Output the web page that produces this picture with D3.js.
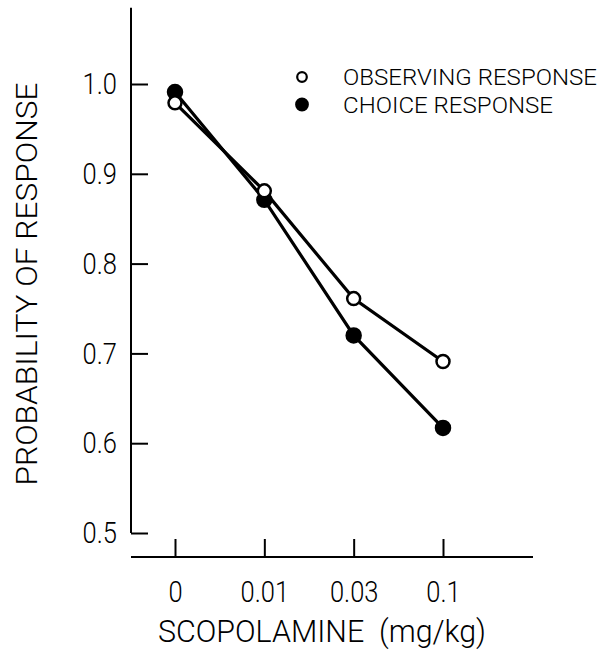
<!DOCTYPE html>
<html>
<head>
<meta charset="utf-8">
<script src="https://cdn.jsdelivr.net/npm/d3@7"></script>
<style>
  body { margin: 0; background: #fff; }
  text { font-family: Roboto, "Liberation Sans", sans-serif; font-weight: 300; fill: #000; }
</style>
</head>
<body>
<svg id="chart" width="605" height="653"></svg>
<script>
const doses = ["0", "0.01", "0.03", "0.1"];
const observing = [0.979, 0.881, 0.761, 0.691];
const choice = [0.991, 0.871, 0.720, 0.617];
const yTicks = [0.5, 0.6, 0.7, 0.8, 0.9, 1.0];
const legendNames = ["OBSERVING RESPONSE", "CHOICE RESPONSE"];

const svg = d3.select("svg#chart");

const x = d3.scalePoint().domain(doses).range([175, 443]);
const y = d3.scaleLinear().domain([0.5, 1.0]).range([533, 84]);

const axisX0 = 131, axisX1 = 533, axisY = 557;

// squeeze text horizontally, the original lettering is narrow
function squeeze(sel, f) {
    sel.each(function() {
        const w = this.getComputedTextLength();
        d3.select(this).attr("textLength", w * f).attr("lengthAdjust", "spacingAndGlyphs");
    });
}

// y axis
const yAxis = d3.axisLeft(y)
    .tickValues(yTicks)
    .tickFormat(d3.format(".1f"))
    .tickSizeInner(-17)
    .tickSizeOuter(0)
    .tickPadding(14);

const gy = svg.append("g")
    .attr("transform", `translate(${axisX0},0)`)
    .call(yAxis);
gy.select(".domain").remove();
gy.selectAll(".tick line").attr("stroke", "#000").attr("stroke-width", 2);
gy.selectAll(".tick text").attr("font-size", 30).attr("fill", "#000")
    .style("font-family", "Roboto, sans-serif").style("font-weight", 300);
squeeze(gy.selectAll(".tick text"), 0.85);

svg.append("line")
    .attr("x1", axisX0).attr("x2", axisX0)
    .attr("y1", y(1.085)).attr("y2", y(0.5))
    .attr("stroke", "#000").attr("stroke-width", 2);

// x axis
const xAxis = d3.axisBottom(x)
    .tickSizeInner(-18)
    .tickSizeOuter(0)
    .tickPadding(24);

const gx = svg.append("g")
    .attr("transform", `translate(0,${axisY})`)
    .call(xAxis);
gx.select(".domain").remove();
gx.selectAll(".tick line").attr("stroke", "#000").attr("stroke-width", 2);
gx.selectAll(".tick text").attr("font-size", 30).attr("fill", "#000")
    .style("font-family", "Roboto, sans-serif").style("font-weight", 300);
squeeze(gx.selectAll(".tick text"), 0.85);

svg.append("line")
    .attr("x1", axisX0).attr("x2", axisX1)
    .attr("y1", axisY).attr("y2", axisY)
    .attr("stroke", "#000").attr("stroke-width", 2);

// axis titles
const xTitle = svg.append("text")
    .attr("x", 322).attr("y", 642)
    .attr("text-anchor", "middle")
    .attr("font-size", 31)
    .attr("xml:space", "preserve")
    .text("SCOPOLAMINE  (mg/kg)");
xTitle.attr("textLength", 328).attr("lengthAdjust", "spacingAndGlyphs");

svg.append("text")
    .attr("transform", "translate(37,284) rotate(-90)")
    .attr("text-anchor", "middle")
    .attr("font-size", 30)
    .attr("textLength", 403)
    .attr("lengthAdjust", "spacingAndGlyphs")
    .text("PROBABILITY OF RESPONSE");

// series
const line = d3.line().x((d, i) => x(doses[i])).y(d => y(d));
const series = [
    { values: choice, fill: "#000", r: 7 },
    { values: observing, fill: "#fff", r: 6.5 }
];

series.forEach(s => {
    svg.append("path")
        .datum(s.values)
        .attr("d", line)
        .attr("fill", "none")
        .attr("stroke", "#000")
        .attr("stroke-width", 3.2);
});

series.forEach(s => {
    svg.append("g")
        .selectAll("circle")
        .data(s.values)
        .join("circle")
        .attr("cx", (d, i) => x(doses[i]))
        .attr("cy", d => y(d))
        .attr("r", s.r)
        .attr("fill", s.fill)
        .attr("stroke", "#000")
        .attr("stroke-width", 2.5);
});

// legend
const legend = svg.append("g");
const legendFill = ["#fff", "#000"];
const legendWidth = [254, 210];
legendNames.forEach((name, i) => {
    const ly = 77 + i * 27.5;
    legend.append("circle")
        .attr("cx", 302).attr("cy", ly)
        .attr("r", i === 0 ? 4.8 : 5.8)
        .attr("fill", legendFill[i])
        .attr("stroke", "#000")
        .attr("stroke-width", 2.2);
    legend.append("text")
        .attr("x", 343).attr("y", ly + 8)
        .attr("font-size", 22)
        .attr("textLength", legendWidth[i])
        .attr("lengthAdjust", "spacingAndGlyphs")
        .text(name);
});
</script>
</body>
</html>
